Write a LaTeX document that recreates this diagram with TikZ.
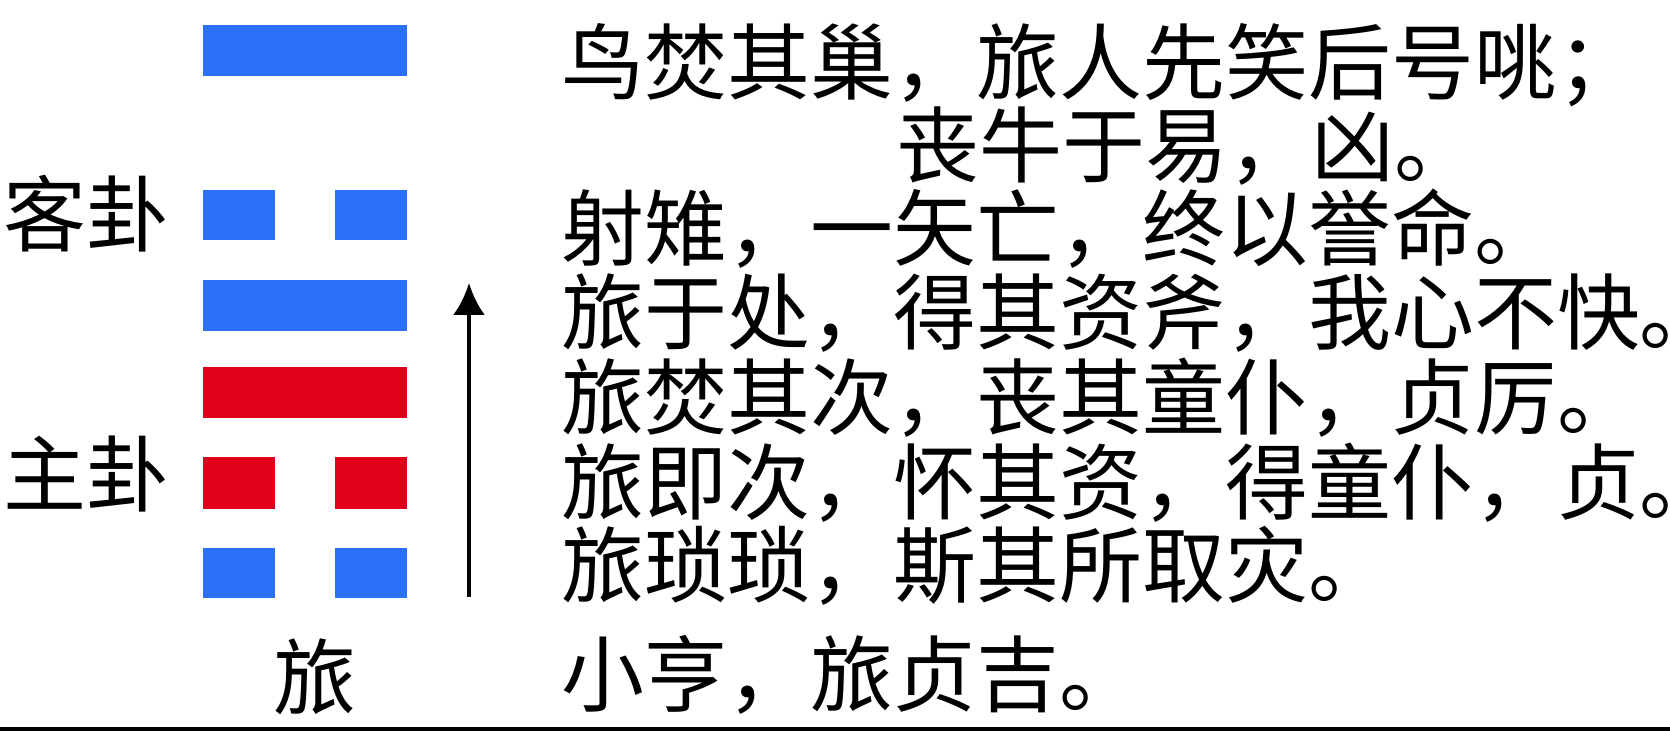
\documentclass[tikz,border=0pt]{standalone}
\usepackage{fontspec}
\usepackage{xcolor}
\usetikzlibrary{arrows.meta}
\newfontfamily\cjk{Noto Sans CJK SC}
\definecolor{yaoblue}{RGB}{43,112,246}
\definecolor{yaored}{RGB}{225,0,26}
\tikzset{
	verse/.style={font=\cjk\fontsize{23.6}{28}\selectfont, inner sep=0pt, anchor=base west}
}

\begin{document}
\begin{tikzpicture}
	\useasboundingbox (0,0) rectangle (16.70,7.31);

	% Upper trigram, the guest
	\fill[yaoblue] (2.03,6.55) rectangle (4.07,7.06);
	\fill[yaoblue] (2.03,4.91) rectangle (2.75,5.41);
	\fill[yaoblue] (3.35,4.91) rectangle (4.07,5.41);
	\fill[yaoblue] (2.03,4.00) rectangle (4.07,4.51);

	% Lower trigram, the host
	\fill[yaored] (2.03,3.13) rectangle (4.07,3.64);
	\fill[yaored] (2.03,2.22) rectangle (2.75,2.74);
	\fill[yaored] (3.35,2.22) rectangle (4.07,2.74);
	\fill[yaoblue] (2.03,1.33) rectangle (2.75,1.83);
	\fill[yaoblue] (3.35,1.33) rectangle (4.07,1.83);

	% Reading order, bottom to top
	\coordinate (rise) at (4.69,1.34);
	\coordinate (peak) at (4.69,4.48);
	\draw[-{Latex[length=3.2mm,width=3.2mm]}, line width=1.3pt] (rise) -- (peak);

	% Trigram names and hexagram name
	\node[verse, anchor=base east] (guest) at (1.70,4.85) {客卦};
	\node[verse, anchor=base east] (host) at (1.70,2.25) {主卦};
	\node[verse, anchor=base] (name) at (3.15,0.22) {旅};

	% Line texts, top line first
	\node[verse] (top) at (5.61,6.37) {鸟焚其巢，旅人先笑后号咷；};
	\node[verse] (topcont) at (8.96,5.54) {丧牛于易，凶。};
	\node[verse] (fifth) at (5.61,4.71) {射雉，一矢亡，终以誉命。};
	\node[verse] (fourth) at (5.61,3.87) {旅于处，得其资斧，我心不快。};
	\node[verse] (third) at (5.61,3.02) {旅焚其次，丧其童仆，贞厉。};
	\node[verse] (second) at (5.61,2.17) {旅即次，怀其资，得童仆，贞。};
	\node[verse] (first) at (5.61,1.34) {旅琐琐，斯其所取灾。};
	\node[verse] (judgement) at (5.61,0.25) {小亨，旅贞吉。};

	% Rule at the foot
	\draw[line width=0.04cm] (0,0.02) -- (16.70,0.02);
\end{tikzpicture}
\end{document}
